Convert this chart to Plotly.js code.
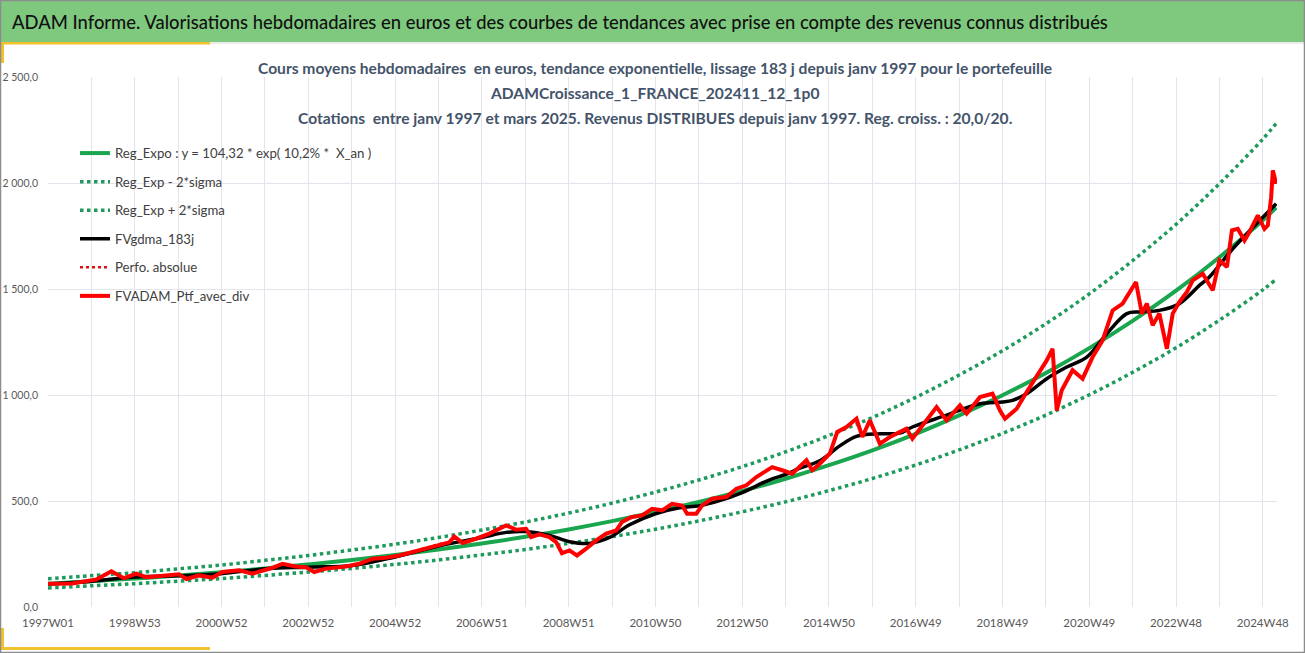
<!DOCTYPE html>
<html>
<head>
<meta charset="utf-8">
<script src="https://cdn.plot.ly/plotly-3.0.1.min.js"></script>
<style>
  html, body { margin: 0; padding: 0; background: #ffffff; }
  #chart { width: 1305px; height: 653px; }
</style>
</head>
<body>
<div id="chart"></div>
<script>
// x = index de la semaine depuis 1997W01
var tickWeeks = [0, 104, 208, 312, 416, 520, 624, 728, 832, 936, 1040, 1144, 1248, 1352, 1456];
var tickLabels = ['1997W01', '1998W53', '2000W52', '2002W52', '2004W52', '2006W51', '2008W51', '2010W50',
                  '2012W50', '2014W50', '2016W49', '2018W49', '2020W49', '2022W48', '2024W48'];
var yTicks = [0, 500, 1000, 1500, 2000, 2500];
var yLabels = ['0,0', '500,0', '1 000,0', '1 500,0', '2 000,0', '2 500,0'];

// tendances (une valeur par an)
var trendWeeks = [0, 52, 104, 156, 208, 260, 312, 364, 416, 468, 520, 572, 624, 676, 728, 780, 832, 884,
                  936, 988, 1040, 1092, 1144, 1196, 1248, 1300, 1352, 1404, 1456, 1472];
var regExpo = [110, 122, 134, 149, 164, 182, 201, 222, 245, 271, 300, 331, 366, 405, 448, 495, 547, 605,
               669, 739, 817, 904, 999, 1104, 1221, 1350, 1492, 1650, 1824, 1885];
var regLow = [90, 100, 110, 122, 134, 149, 165, 182, 201, 222, 246, 271, 300, 332, 367, 406, 449, 496,
              549, 606, 670, 741, 819, 905, 1001, 1107, 1223, 1353, 1496, 1546];
var regHigh = [133, 148, 162, 180, 198, 220, 243, 269, 296, 328, 363, 401, 443, 490, 542, 599, 662, 732,
               809, 894, 989, 1094, 1209, 1336, 1477, 1634, 1805, 1997, 2207, 2281];

// moyenne mobile 183 j
var gdmaWeeks = [0, 52, 104, 156, 207, 260, 312, 365, 416, 468, 520, 549, 572, 601, 625, 649, 673, 697,
                 728, 757, 781, 805, 832, 865, 884, 901, 925, 949, 969, 997, 1021, 1036, 1077, 1117,
                 1144, 1156, 1173, 1197, 1221, 1245, 1269, 1293, 1308, 1332, 1356, 1380, 1392, 1420, 1444, 1472];
var gdma = [108, 122, 142, 147, 157, 180, 188, 196, 236, 288, 328, 352, 356, 338, 308, 300, 328, 388,
            440, 468, 478, 502, 540, 600, 625, 655, 690, 760, 805, 817, 820, 849, 905, 959,
            967, 975, 1006, 1077, 1132, 1179, 1289, 1384, 1392, 1399, 1431, 1517, 1557, 1690, 1790, 1902];

// valorisation hebdomadaire du portefeuille avec dividendes
var ptfWeeks = [0, 29, 58, 76, 91, 106, 118, 142, 157, 166, 181, 197, 209, 229, 245, 269, 281, 297, 309,
                319, 333, 357, 373, 389, 405, 421, 441, 457, 473, 481, 487, 497, 513, 529, 549, 561, 573,
                579, 589, 601, 609, 616, 625, 634, 645, 657, 669, 681, 688, 699, 712, 724, 736, 748, 760,
                766, 777, 784, 796, 813, 825, 837, 849, 861, 868, 880, 892, 909, 916, 925, 937, 946, 957,
                969, 976, 985, 997, 1009, 1021, 1029, 1036, 1048, 1065, 1077, 1093, 1101, 1117, 1132, 1141,
                1147, 1161, 1173, 1185, 1197, 1204, 1209, 1215, 1228, 1240, 1252, 1264, 1276, 1288, 1296,
                1304, 1311, 1317, 1324, 1332, 1341, 1348, 1356, 1365, 1372, 1384, 1396, 1404, 1413, 1419,
                1426, 1434, 1440, 1450, 1458, 1462, 1466, 1468, 1472];
var ptf = [110, 111, 130, 169, 136, 157, 140, 149, 154, 132, 149, 138, 165, 173, 157, 185, 204, 191, 188,
           165, 181, 191, 204, 228, 232, 243, 264, 283, 301, 305, 333, 302, 322, 346, 385, 365, 369,
           330, 343, 330, 306, 254, 267, 243, 275, 314, 346, 361, 401, 424, 432, 463, 456, 487, 479,
           440, 440, 479, 511, 519, 558, 574, 613, 645, 660, 645, 629, 692, 645, 676, 723, 826, 849,
           888, 802, 881, 770, 802, 826, 841, 794, 857, 943, 880, 951, 912, 990, 1006, 927,
           888, 935, 1014, 1092, 1163, 1218, 927, 1022, 1117, 1077, 1179, 1258, 1399, 1431, 1478,
           1533, 1384, 1431, 1329, 1384, 1218, 1384, 1439, 1486, 1541, 1572, 1494, 1636, 1604, 1777,
           1784, 1729, 1769, 1847, 1784, 1800, 1933, 2059, 1997];

var font = 'Lato, Noto Sans, sans-serif';
var green = '#1aa64f';
var greenDot = '#1e9a5c';

var traces = [
  { x: trendWeeks, y: regExpo, name: 'Reg_Expo : y = 104,32 * exp( 10,2% *  X_an )', mode: 'lines',
    line: { color: green, width: 4, shape: 'spline' }, legendgroup: 'g1' },
  { x: trendWeeks, y: regLow, name: 'Reg_Exp - 2*sigma', mode: 'lines',
    line: { color: greenDot, width: 3.5, dash: 'dot', shape: 'spline' }, legendgroup: 'g2' },
  { x: trendWeeks, y: regHigh, name: 'Reg_Exp + 2*sigma', mode: 'lines',
    line: { color: greenDot, width: 3.5, dash: 'dot', shape: 'spline' }, legendgroup: 'g3' },
  { x: gdmaWeeks, y: gdma, name: 'FVgdma_183j', mode: 'lines',
    line: { color: '#000000', width: 3.5, shape: 'spline' }, legendgroup: 'g4' },
  { x: ptfWeeks, y: ptf, name: 'Perfo. absolue', mode: 'lines',
    line: { color: '#e01010', width: 2.5, dash: 'dot' }, legendgroup: 'g5' },
  { x: ptfWeeks, y: ptf, name: 'FVADAM_Ptf_avec_div', mode: 'lines',
    line: { color: '#ff0000', width: 4 }, legendgroup: 'g6' }
];

// conversions pixel -> paper pour le cadre
var L = 48, T = 77, W = 1229, H = 530;
function px(v) { return (v - L) / W; }
function py(v) { return (T + H - v) / H; }

var shapes = [
  { type: 'rect', xref: 'paper', yref: 'paper', x0: px(0), x1: px(1305), y0: py(0), y1: py(42),
    fillcolor: '#7fc97f', line: { width: 0 }, layer: 'below' },
  { type: 'line', xref: 'paper', yref: 'paper', x0: px(0), x1: px(1305), y0: py(43), y1: py(43),
    line: { color: '#d9d9d9', width: 1 } },
  { type: 'rect', xref: 'paper', yref: 'paper', x0: px(0), x1: px(210), y0: py(42), y1: py(44.5),
    fillcolor: '#f2c12e', line: { width: 0 } },
  { type: 'rect', xref: 'paper', yref: 'paper', x0: px(0), x1: px(4), y0: py(42), y1: py(63),
    fillcolor: '#f2c12e', line: { width: 0 } },
  { type: 'rect', xref: 'paper', yref: 'paper', x0: px(0), x1: px(210), y0: py(647), y1: py(650),
    fillcolor: '#f2c12e', line: { width: 0 } },
  { type: 'rect', xref: 'paper', yref: 'paper', x0: px(0), x1: px(4), y0: py(628), y1: py(650),
    fillcolor: '#f2c12e', line: { width: 0 } },
  { type: 'rect', xref: 'paper', yref: 'paper', x0: px(0.5), x1: px(1304.5), y0: py(0.5), y1: py(652.5),
    line: { color: '#8c8c8c', width: 1.5 } }
];

var subColor = '#44546a';
var annotations = [
  { text: 'Cours moyens hebdomadaires  en euros, tendance exponentielle, lissage 183 j depuis janv 1997 pour le portefeuille',
    x: px(655), y: py(68) },
  { text: 'ADAMCroissance_1_FRANCE_202411_12_1p0', x: px(655), y: py(93) },
  { text: 'Cotations  entre janv 1997 et mars 2025. Revenus DISTRIBUES depuis janv 1997. Reg. croiss. : 20,0/20.',
    x: px(655), y: py(118) }
].map(function (a) {
  a.xref = 'paper'; a.yref = 'paper'; a.showarrow = false;
  a.xanchor = 'center'; a.yanchor = 'middle';
  a.font = { family: font, size: 15.6, color: subColor, weight: 'bold' };
  return a;
});

var layout = {
  width: 1305, height: 653,
  margin: { l: L, r: 1305 - L - W, t: T, b: 653 - T - H },
  paper_bgcolor: '#ffffff', plot_bgcolor: '#ffffff',
  font: { family: font, color: '#595959' },
  title: {
    text: 'ADAM Informe. Valorisations hebdomadaires en euros et des courbes de tendances avec prise en compte des revenus connus distribués',
    xref: 'container', yref: 'container', x: 12 / 1305, xanchor: 'left', y: 1 - 23 / 653, yanchor: 'middle',
    font: { family: font, size: 18.4, color: '#111111', weight: 500 }
  },
  xaxis: {
    range: [0, 1473], tickvals: tickWeeks, ticktext: tickLabels, showgrid: true,
    gridcolor: '#e4e4ec', gridwidth: 1, zeroline: false, showline: false, ticks: '',
    tickfont: { size: 11.5, color: '#595959' }, ticklabelstandoff: 7,
    minor: { dtick: 52, tick0: 0, showgrid: true, gridcolor: '#e4e4ec', gridwidth: 1 }
  },
  yaxis: {
    range: [0, 2500], tickvals: yTicks, ticktext: yLabels, showgrid: true,
    gridcolor: '#e4e4ec', gridwidth: 1, zeroline: false, showline: false, ticks: '',
    tickfont: { size: 10.5, color: '#595959' }, ticklabelstandoff: 9
  },
  legend: {
    x: px(75), y: py(138), xanchor: 'left', yanchor: 'top', bgcolor: 'rgba(0,0,0,0)',
    font: { size: 13.2, color: '#404040' }, traceorder: 'grouped', tracegroupgap: 8.4
  },
  showlegend: true,
  shapes: shapes,
  annotations: annotations
};

Plotly.newPlot('chart', traces, layout, { displayModeBar: false, staticPlot: true });
</script>
</body>
</html>
